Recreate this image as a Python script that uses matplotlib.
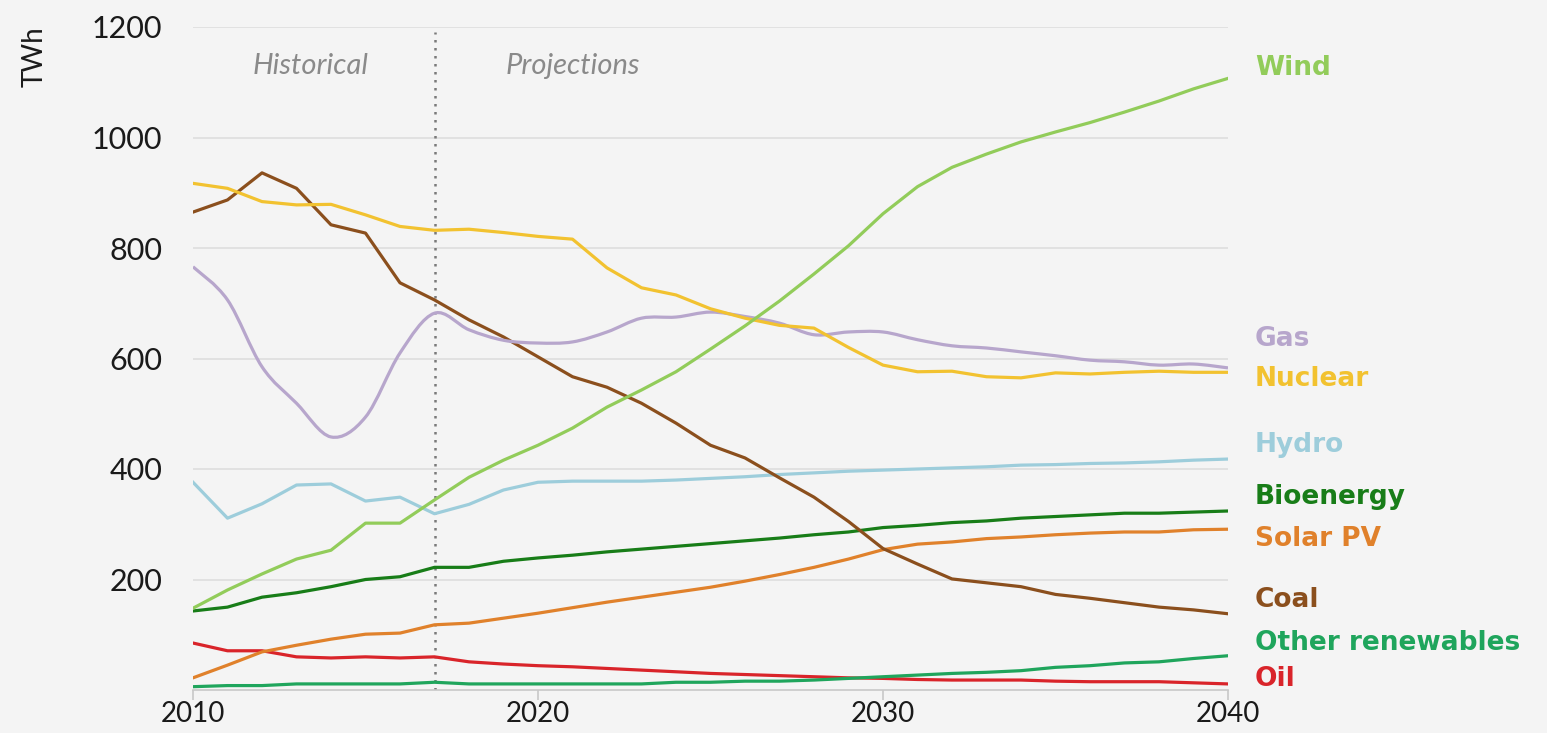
import matplotlib
matplotlib.use("Agg")
import matplotlib.pyplot as plt
from matplotlib.path import Path
from matplotlib.patches import PathPatch
import matplotlib.transforms as mtransforms
import numpy as np

years = list(range(2010, 2041))

wind = [148, 181, 210, 237, 253, 302, 302, 344, 385, 416, 443, 474, 512, 543, 576, 617,
        659, 704, 753, 804, 862, 911, 946, 970, 992, 1010, 1027, 1046, 1066, 1088, 1107]
nuclear = [917, 908, 884, 878, 879, 860, 839, 832, 834, 828, 821, 816, 764, 728, 715, 690,
           673, 660, 655, 620, 588, 576, 577, 567, 565, 574, 572, 575, 577, 575, 575]
coal = [865, 887, 936, 908, 842, 827, 737, 706, 670, 639, 603, 567, 548, 519, 483, 443,
        420, 384, 349, 305, 256, 228, 201, 194, 187, 173, 166, 158, 150, 145, 138]
gas = [766, 706, 585, 519, 458, 494, 610, 682, 652, 633, 628, 630, 648, 673, 675, 684,
       676, 664, 643, 648, 648, 634, 623, 619, 612, 605, 597, 594, 588, 590, 583]
hydro = [376, 311, 337, 371, 373, 342, 349, 319, 336, 362, 376, 378, 378, 378, 380, 383,
         386, 390, 393, 396, 398, 400, 402, 404, 407, 408, 410, 411, 413, 416, 418]
bioenergy = [143, 150, 168, 176, 187, 200, 205, 222, 222, 233, 239, 244, 250, 255, 260, 265,
             270, 275, 281, 286, 294, 298, 303, 306, 311, 314, 317, 320, 320, 322, 324]
solar = [22, 45, 69, 81, 92, 101, 103, 118, 121, 130, 139, 149, 159, 168, 177, 186,
         197, 209, 222, 237, 254, 264, 268, 274, 277, 281, 284, 286, 286, 290, 291]
oil = [85, 71, 71, 60, 58, 60, 58, 60, 51, 47, 44, 42, 39, 36, 33, 30,
       28, 26, 24, 22, 21, 19, 18, 18, 18, 16, 15, 15, 15, 13, 11]
other_ren = [6, 8, 8, 11, 11, 11, 11, 14, 11, 11, 11, 11, 11, 11, 14, 14,
             16, 16, 18, 21, 24, 27, 30, 32, 35, 41, 44, 49, 51, 57, 62]

series_names = ["Wind", "Gas", "Nuclear", "Hydro", "Bioenergy", "Solar PV", "Coal",
                "Other renewables", "Oil"]
label_values = [1125, 635, 563, 443, 349, 273, 163, 85, 20]

yticks = [200, 400, 600, 800, 1000, 1200]
xticks = [2010, 2020, 2030, 2040]

colors = {
    "Wind": "#92cc5a", "Nuclear": "#f2c230", "Coal": "#8b4f1d", "Gas": "#b7a6cc",
    "Hydro": "#9dcddb", "Bioenergy": "#187d18", "Solar PV": "#e0812b",
    "Other renewables": "#1fa55c", "Oil": "#d9242a",
}
data = {"Wind": wind, "Nuclear": nuclear, "Coal": coal, "Gas": gas, "Hydro": hydro,
        "Bioenergy": bioenergy, "Solar PV": solar, "Other renewables": other_ren, "Oil": oil}

bg = "#f4f4f4"
fig = plt.figure(figsize=(15.47, 7.33), dpi=100, facecolor=bg)
ax = fig.add_axes([193 / 1547, 1 - 690 / 733, (1228 - 193) / 1547, (690 - 27) / 733])
ax.set_facecolor(bg)
ax.set_xlim(2010, 2040)
ax.set_ylim(0, 1200)

for y in yticks:
    ax.axhline(y, color="#dedede", lw=1.2, zorder=0)

ax.axvline(2017, color="#7a7a7a", lw=1.8, ls=(0, (1, 2.2)), ymax=0.992, zorder=1)


def smooth_path(xs, ys):
    verts = [(xs[0], ys[0])]
    codes = [Path.MOVETO]
    n = len(xs)
    for i in range(n - 1):
        p0 = (xs[max(i - 1, 0)], ys[max(i - 1, 0)])
        p1 = (xs[i], ys[i])
        p2 = (xs[i + 1], ys[i + 1])
        p3 = (xs[min(i + 2, n - 1)], ys[min(i + 2, n - 1)])
        c1 = (p1[0] + (p2[0] - p0[0]) / 6, p1[1] + (p2[1] - p0[1]) / 6)
        c2 = (p2[0] - (p3[0] - p1[0]) / 6, p2[1] - (p3[1] - p1[1]) / 6)
        verts += [c1, c2, p2]
        codes += [Path.CURVE4] * 3
    return Path(verts, codes)


draw_order = ["Oil", "Other renewables", "Solar PV", "Bioenergy", "Hydro", "Coal",
              "Gas", "Nuclear", "Wind"]
for name in draw_order:
    if name == "Gas":
        patch = PathPatch(smooth_path(years, data[name]), facecolor="none",
                          edgecolor=colors[name], lw=2.3, zorder=3)
        ax.add_patch(patch)
    else:
        ax.plot(years, data[name], color=colors[name], lw=2.3, zorder=3,
                solid_joinstyle="round")

for spine in ["top", "right", "left"]:
    ax.spines[spine].set_visible(False)
ax.spines["bottom"].set_color("#c8c8c8")
ax.spines["bottom"].set_linewidth(1.2)

ax.set_yticks(yticks)
ax.set_yticklabels([str(v) for v in yticks])
ax.set_xticks(xticks)
ax.set_xticklabels([str(v) for v in xticks])
ax.tick_params(axis="y", length=0, pad=22, labelsize=22, labelcolor="#1a1a1a")
ax.tick_params(axis="x", length=7, width=1.2, color="#c8c8c8", pad=1, labelsize=20,
               labelcolor="#1a1a1a")
for lab in ax.get_xticklabels() + ax.get_yticklabels():
    lab.set_family("Lato")
    lab.set_fontweight("normal")

fig.text(35 / 1547, 1 - 57 / 733, "TWh", rotation=90, ha="center", va="center",
         fontsize=20, family="Lato", fontweight="normal", color="#1a1a1a")

ax.text(2013.4, 1130, "Historical", ha="center", va="center", fontsize=21,
        style="italic", color="#8a8a8a", family="Lato", fontweight="normal")
ax.text(2021.0, 1130, "Projections", ha="center", va="center", fontsize=21,
        style="italic", color="#8a8a8a", family="Lato", fontweight="normal")

trans = mtransforms.blended_transform_factory(ax.transAxes, ax.transData)
for name, yv in zip(series_names, label_values):
    ax.text((1255 - 193) / (1228 - 193), yv, name, transform=trans, ha="left",
            va="center", fontsize=19, fontweight="bold", color=colors[name],
            family="DejaVu Sans", clip_on=False)

fig.savefig("out.png", dpi=100, facecolor=bg)
